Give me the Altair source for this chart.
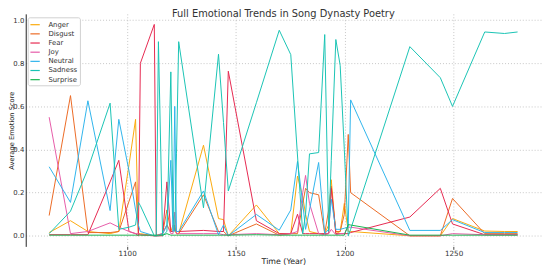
import altair as alt
import pandas as pd

years = [1064.2, 1074.0, 1082.0, 1092.2, 1096.2, 1100.9, 1103.9, 1105.2, 1106.1, 1112.5,
         1113.4, 1114.4, 1116.3, 1118.3, 1120.1, 1121.1, 1121.9, 1122.7, 1123.7, 1135.1,
         1142.0, 1144.3, 1146.5, 1159.4, 1169.9, 1175.2, 1178.3, 1180.7, 1182.0, 1183.8,
         1188.0, 1190.8, 1192.6, 1193.8, 1195.9, 1197.9, 1199.8, 1201.6, 1202.7, 1229.9,
         1243.9, 1249.5, 1264.3, 1273.4, 1279.4]

anger = [0.015, 0.07, 0.02, 0.01, 0.02, 0.33, 0.54, 0.01, 0.01, 0.0,
         0.0, 0.0, 0.01, 0.05, 0.02, 0.05, 0.03, 0.01, 0.01, 0.42,
         0.08, 0.075, 0.0, 0.143, 0.01, 0.01, 0.277, 0.18, 0.1, 0.02,
         0.01, 0.01, 0.05, 0.26, 0.01, 0.02, 0.15, 0.02, 0.02, 0.0,
         0.0, 0.08, 0.022, 0.02, 0.02]

disgust = [0.094, 0.65, 0.015, 0.015, 0.02, 0.16, 0.25, 0.01, 0.005, 0.0,
           0.0, 0.005, 0.01, 0.12, 0.02, 0.02, 0.05, 0.01, 0.01, 0.19,
           0.02, 0.02, 0.0, 0.055, 0.003, 0.01, 0.01, 0.15, 0.22, 0.2,
           0.19, 0.01, 0.12, 0.23, 0.02, 0.02, 0.1, 0.47, 0.2, 0.0,
           0.0, 0.173, 0.01, 0.01, 0.01]

fear = [0.005, 0.005, 0.005, 0.25, 0.35, 0.02, 0.01, 0.0, 0.8, 0.98,
        0.0, 0.0, 0.0, 0.25, 0.02, 0.02, 0.03, 0.02, 0.02, 0.025,
        0.02, 0.02, 0.763, 0.07, 0.01, 0.01, 0.1, 0.01, 0.01, 0.01,
        0.01, 0.01, 0.01, 0.22, 0.01, 0.01, 0.01, 0.01, 0.015, 0.087,
        0.22, 0.055, 0.005, 0.005, 0.005]

joy = [0.55, 0.01, 0.02, 0.06, 0.04, 0.02, 0.01, 0.01, 0.005, 0.0,
       0.0, 0.005, 0.01, 0.05, 0.01, 0.01, 0.11, 0.01, 0.01, 0.01,
       0.01, 0.005, 0.005, 0.01, 0.005, 0.01, 0.02, 0.2, 0.28, 0.15,
       0.01, 0.005, 0.01, 0.03, 0.005, 0.01, 0.01, 0.04, 0.04, 0.0,
       0.0, 0.01, 0.005, 0.005, 0.005]

neutral = [0.32, 0.155, 0.626, 0.117, 0.54, 0.3, 0.12, 0.05, 0.02, 0.0,
           0.0, 0.0, 0.01, 0.05, 0.35, 0.02, 0.6, 0.02, 0.02, 0.208,
           0.005, 0.05, 0.0, 0.099, 0.026, 0.12, 0.345, 0.15, 0.03, 0.12,
           0.34, 0.01, 0.03, 0.17, 0.03, 0.03, 0.035, 0.04, 0.63, 0.025,
           0.025, 0.075, 0.015, 0.015, 0.015]

sadness = [0.01, 0.114, 0.31, 0.615, 0.03, 0.04, 0.05, 0.155, 0.14, 0.0,
           0.0, 0.9, 0.0, 0.02, 0.76, 0.1, 0.02, 0.38, 0.9, 0.13,
           0.842, 0.525, 0.208, 0.617, 0.953, 0.84, 0.37, 0.01, 0.1, 0.38,
           0.386, 0.933, 0.02, 0.35, 0.91, 0.79, 0.4, 0.0, 0.03, 0.877,
           0.733, 0.6, 0.945, 0.938, 0.945]

surprise = [0.003, 0.003, 0.003, 0.003, 0.003, 0.003, 0.003, 0.003, 0.003, 0.003,
            0.003, 0.003, 0.003, 0.01, 0.003, 0.003, 0.003, 0.003, 0.003, 0.003,
            0.003, 0.003, 0.003, 0.005, 0.003, 0.003, 0.003, 0.003, 0.003, 0.003,
            0.003, 0.003, 0.003, 0.003, 0.003, 0.003, 0.003, 0.052, 0.05, 0.003,
            0.003, 0.003, 0.003, 0.003, 0.003]

emotions = ["Anger", "Disgust", "Fear", "Joy", "Neutral", "Sadness", "Surprise"]
colors = ["#FBAA0C", "#EC6A24", "#E6284F", "#E65AA8", "#2EB4EC", "#18C3B4", "#18B44E"]
series = [anger, disgust, fear, joy, neutral, sadness, surprise]

x_ticks = [1100, 1150, 1200, 1250]
y_ticks = [0.0, 0.2, 0.4, 0.6, 0.8, 1.0]

rows = []
for i, (name, vals) in enumerate(zip(emotions, series)):
    for yr, v in zip(years, vals):
        rows.append({"Year": yr, "Emotion": name, "Score": v, "k": i})
df = pd.DataFrame(rows)

FONT = "DejaVu Sans"

chart = alt.Chart(df).mark_line(strokeWidth=1, clip=True).encode(
    x=alt.X("Year:Q",
            scale=alt.Scale(domain=[1053.44, 1290.16], nice=False, zero=False),
            axis=alt.Axis(values=x_ticks, format="d", title="Time (Year)",
                          domain=False, ticks=True, tickSize=3, tickColor="#444",
                          labelFontSize=7.3, labelColor="#333", labelPadding=0,
                          titleFontSize=8, titleFontWeight="normal", titleColor="#222",
                          titleY=17.5, titleBaseline="alphabetic",
                          grid=True, gridDash=[1, 2], gridColor="#b8b8b8", gridWidth=0.8)),
    y=alt.Y("Score:Q",
            scale=alt.Scale(domain=[-0.049, 1.029], nice=False, zero=False),
            axis=alt.Axis(values=y_ticks, format=".1f", title="Average Emotion Score",
                          domain=True, domainColor="#222", domainWidth=1,
                          ticks=False, labelPadding=2, labelFontSize=7, labelColor="#333",
                          titleFontSize=6.8, titleFontWeight="normal", titleColor="#222",
                          titleX=-11.6, titleY=118, titleAngle=270, titleBaseline="bottom",
                          titleAlign="center",
                          grid=True, gridDash=[1, 2], gridColor="#b8b8b8", gridWidth=0.8)),
    color=alt.Color("Emotion:N",
                    scale=alt.Scale(domain=emotions, range=colors),
                    legend=alt.Legend(title=None, orient="none", legendX=2, legendY=3.5,
                                      symbolType="stroke", symbolSize=90, symbolStrokeWidth=1.2,
                                      labelFontSize=7, labelColor="#333", labelOffset=8,
                                      rowPadding=0.3, padding=2,
                                      fillColor="white", strokeColor="#d0d0d0",
                                      cornerRadius=2)),
    order=alt.Order("k:Q"),
    detail="Emotion:N",
).properties(
    width=523, height=236,
    title=alt.TitleParams("Full Emotional Trends in Song Dynasty Poetry",
                          fontSize=10, fontWeight="normal", color="#333",
                          font=FONT, anchor="middle", offset=-5),
    autosize="none",
    padding={"left": 18, "top": 4, "right": 1, "bottom": 20},
).configure(font=FONT).configure_view(strokeWidth=0)

chart.save("out.html", embed_options={"renderer": "svg", "actions": False})
